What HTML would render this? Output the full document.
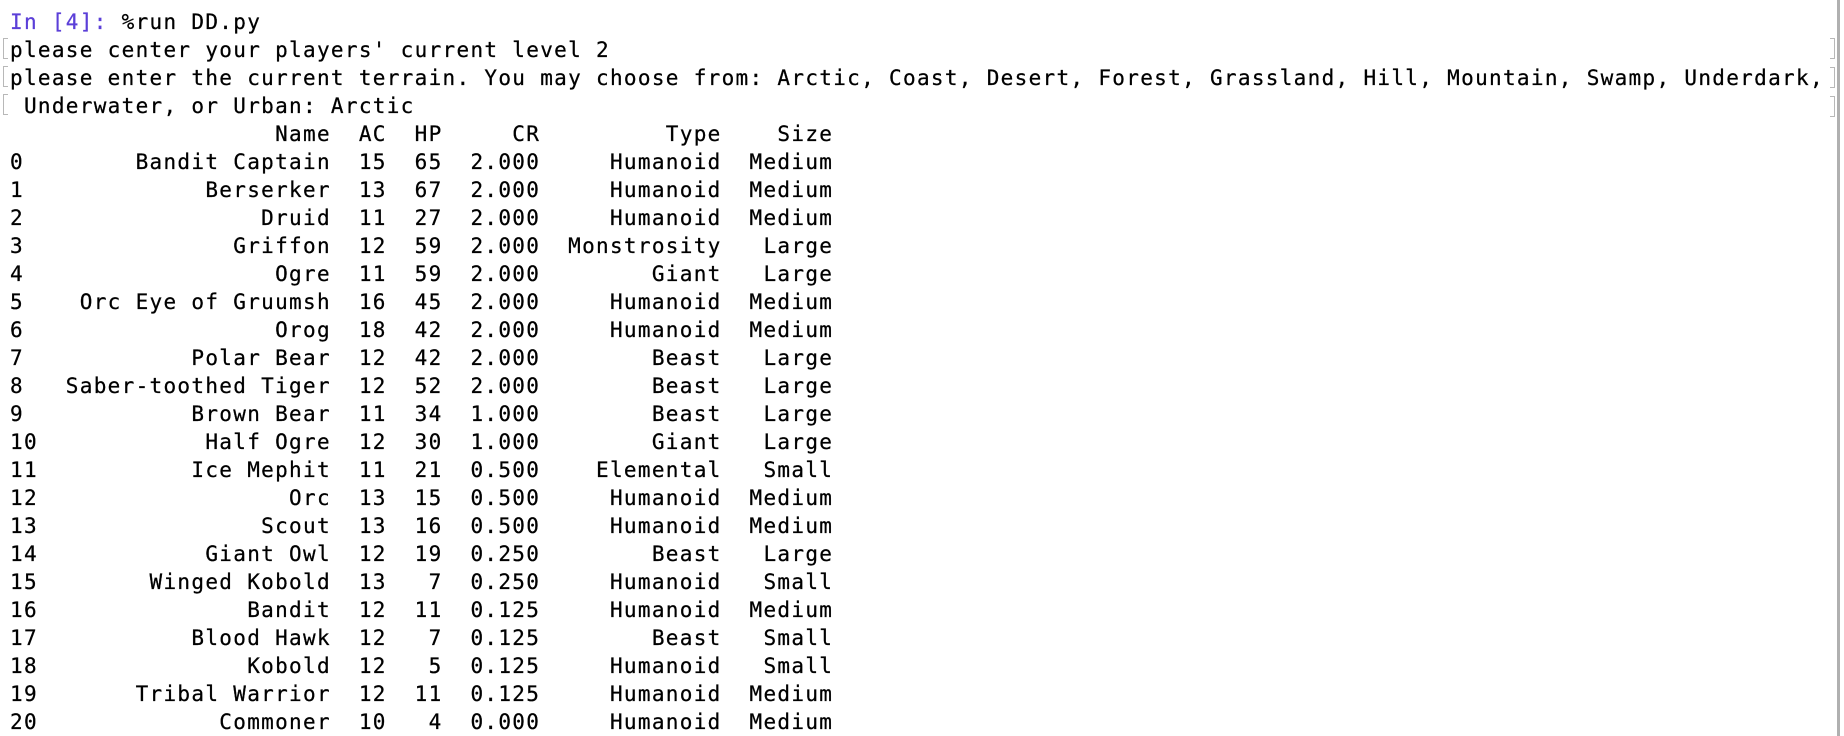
<!DOCTYPE html>
<html><head><meta charset="utf-8"><style>
html,body{margin:0;padding:0;background:#fff;}
body{width:1844px;height:736px;overflow:hidden;position:relative;}
pre{position:absolute;left:10px;top:8px;margin:0;font-family:"DejaVu Sans Mono","Liberation Mono",monospace;font-size:21px;letter-spacing:1.31px;line-height:28.0px;color:#000;-webkit-text-stroke:0.25px #000;}
.p{color:#5b3fd8;-webkit-text-stroke:0.25px #5b3fd8;}
.br{position:absolute;width:4px;height:19px;border:1.5px solid #b8b8b8;}
.bl{left:3px;border-right:none;}
.brr{left:1830px;border-left:none;}
#edge{position:absolute;left:1837px;top:0;width:3px;height:736px;background:#b0b0b0;}
</style></head><body>
<div id="edge"></div>
<div class="br bl" style="top:38px"></div>
<div class="br bl" style="top:66px"></div>
<div class="br bl" style="top:94px"></div>
<div class="br brr" style="top:38px"></div>
<div class="br brr" style="top:67px"></div>
<div class="br brr" style="top:96px"></div>
<pre><span class="p">In [4]:</span> <span>%run DD.py</span>
<span>please center your players' current level 2</span>
<span>please enter the current terrain. You may choose from: Arctic, Coast, Desert, Forest, Grassland, Hill, Mountain, Swamp, Underdark,</span>
<span> Underwater, or Urban: Arctic</span>
<span>                   Name  AC  HP     CR         Type    Size</span>
<span>0        Bandit Captain  15  65  2.000     Humanoid  Medium
1             Berserker  13  67  2.000     Humanoid  Medium
2                 Druid  11  27  2.000     Humanoid  Medium
3               Griffon  12  59  2.000  Monstrosity   Large
4                  Ogre  11  59  2.000        Giant   Large
5    Orc Eye of Gruumsh  16  45  2.000     Humanoid  Medium
6                  Orog  18  42  2.000     Humanoid  Medium
7            Polar Bear  12  42  2.000        Beast   Large
8   Saber-toothed Tiger  12  52  2.000        Beast   Large
9            Brown Bear  11  34  1.000        Beast   Large
10            Half Ogre  12  30  1.000        Giant   Large
11           Ice Mephit  11  21  0.500    Elemental   Small
12                  Orc  13  15  0.500     Humanoid  Medium
13                Scout  13  16  0.500     Humanoid  Medium
14            Giant Owl  12  19  0.250        Beast   Large
15        Winged Kobold  13   7  0.250     Humanoid   Small
16               Bandit  12  11  0.125     Humanoid  Medium
17           Blood Hawk  12   7  0.125        Beast   Small
18               Kobold  12   5  0.125     Humanoid   Small
19       Tribal Warrior  12  11  0.125     Humanoid  Medium
20             Commoner  10   4  0.000     Humanoid  Medium</span></pre>
</body></html>
